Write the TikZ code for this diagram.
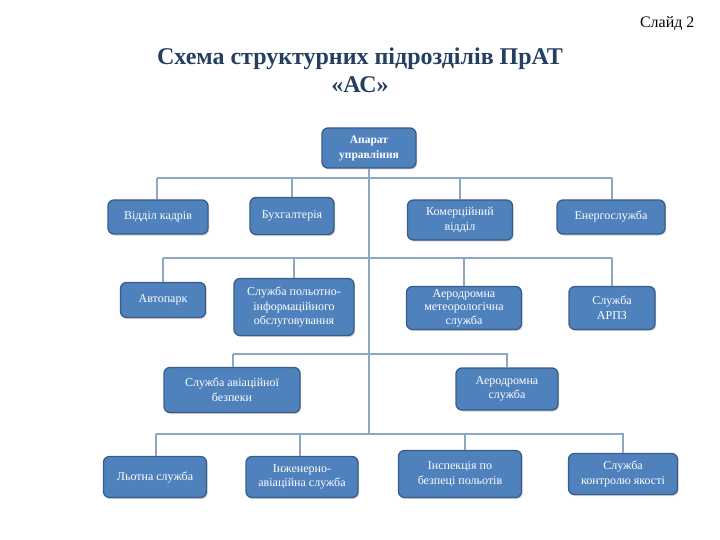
\documentclass[tikz,border=0pt]{standalone}
\usepackage{fontspec}
\setmainfont{Liberation Serif}
\usetikzlibrary{shadows}
\definecolor{boxfill}{HTML}{4F81BD}
\definecolor{boxline}{HTML}{385D8A}
\definecolor{connc}{HTML}{8DA6C4}
\definecolor{titlec}{HTML}{243F60}
\tikzset{
  unit/.style={draw=boxline, line width=1.3pt, fill=boxfill, rounded corners=6pt,
    text=white, align=center, font=\fontsize{12}{14.5}\selectfont, inner sep=1pt,
    drop shadow={shadow xshift=1.2pt, shadow yshift=-1.5pt, opacity=0.35, fill=gray}},
  conn/.style={draw=connc, line width=1.3pt}
}
\begin{document}
\begin{tikzpicture}[x=1pt,y=-1pt]
\useasboundingbox (0,0) rectangle (720,540);
% title
\node[font=\fontsize{16}{18}\selectfont, anchor=east] (slide) at (698,24) {Слайд 2};
\node[font=\bfseries\fontsize{24}{28}\selectfont, text=titlec, align=center] (title) at (360,70)
  {Схема структурних підрозділів ПрАТ\\«АС»};
% nodes
\node[unit, minimum width=94, minimum height=40, font=\bfseries\fontsize{11.5}{15}\selectfont] (top) at (369,148) {Апарат\\управління};
\node[unit, minimum width=100, minimum height=34] (kadry) at (158,217) {Відділ кадрів};
\node[unit, minimum width=84, minimum height=37] (buh) at (292,216) {Бухгалтерія};
\node[unit, minimum width=105, minimum height=40] (kom) at (460,220) {Комерційний\\відділ};
\node[unit, minimum width=108, minimum height=34] (energo) at (611,217) {Енергослужба};

\node[unit, minimum width=85, minimum height=35] (avto) at (163,300) {Автопарк};
\node[unit, minimum width=120, minimum height=57] (poi) at (294,307) {Служба польотно-\\інформаційного\\обслуговування};
\node[unit, minimum width=115, minimum height=43, font=\fontsize{12}{13.5}\selectfont] (meteo) at (464,308) {Аеродромна\\метеорологічна\\служба};
\node[unit, minimum width=86, minimum height=43] (arpz) at (612,308) {Служба\\АРПЗ};

\node[unit, minimum width=136, minimum height=45] (avbez) at (232,390) {Служба авіаційної\\безпеки};
\node[unit, minimum width=102, minimum height=42] (aero) at (507,389) {Аеродромна\\служба};

\node[unit, minimum width=103, minimum height=41] (lot) at (155,477) {Льотна служба};
\node[unit, minimum width=112, minimum height=41] (inzh) at (302,477) {Інженерно-\\авіаційна служба};
\node[unit, minimum width=123, minimum height=47] (insp) at (460,474) {Інспекція по\\безпеці польотів};
\node[unit, minimum width=109, minimum height=41] (kontr) at (623,474) {Служба\\контролю якості};

% bus coordinates
\coordinate (r1) at (369,178);
\coordinate (r2) at (369,258);
\coordinate (r3) at (369,354);
\coordinate (r4) at (369,434);
\coordinate (k1) at (157,178);
\coordinate (k2) at (163,258);
\coordinate (k3) at (233,354);
\coordinate (k4) at (156,434);

\begin{scope}[on background layer/.try]
\draw[conn] (top.south) -- (r4);
% row 1
\draw[conn] (k1) -- (612,178);
\draw[conn] (k1) -- (k1 |- kadry.north);
\draw[conn] (buh.north |- r1) -- (buh.north);
\draw[conn] (kom.north |- r1) -- (kom.north);
\draw[conn] (612,178) -- (612,0 |- energo.north);
% row 2
\draw[conn] (k2) -- (612,258);
\draw[conn] (k2) -- (avto.north);
\draw[conn] (poi.north |- r2) -- (poi.north);
\draw[conn] (meteo.north |- r2) -- (meteo.north);
\draw[conn] (arpz.north |- r2) -- (arpz.north);
% row 3
\draw[conn] (k3) -- (aero.north |- r3) -- (aero.north);
\draw[conn] (k3) -- (k3 |- avbez.north);
% row 4
\draw[conn] (k4) -- (kontr.north |- r4) -- (kontr.north);
\draw[conn] (k4) -- (k4 |- lot.north);
\draw[conn] (300,434) -- (300,0 |- inzh.north);
\draw[conn] (465,434) -- (465,0 |- insp.north);
\end{scope}
\end{tikzpicture}
\end{document}
